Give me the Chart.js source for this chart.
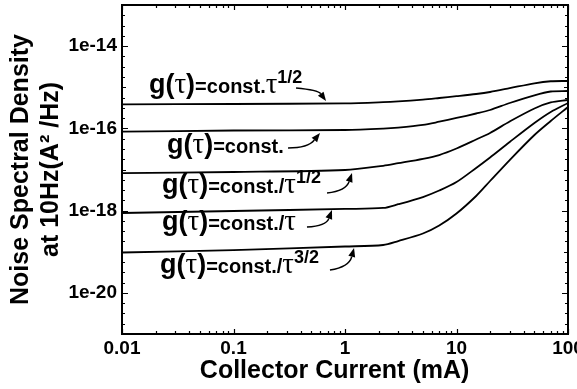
<!DOCTYPE html>
<html><head><meta charset="utf-8">
<script src="https://cdn.jsdelivr.net/npm/chart.js@4.4.0/dist/chart.umd.min.js"></script>
<style>html,body{margin:0;padding:0;background:#fff;}#wrap{width:577px;height:389px;}</style>
</head><body><div id="wrap"><canvas id="c" width="577" height="389"></canvas></div>
<script>
// ---- data ----
const currents = [0.01, 0.1, 1, 2.2, 3, 5, 7, 10, 15, 20, 30, 50, 70, 100]; // mA
const sdTauHalf    = [3.85e-16, 3.92e-16, 4.07e-16, 4.34e-16, 4.53e-16, 5.01e-16, 5.48e-16, 6.06e-16, 6.85e-16, 7.66e-16, 9.49e-16, 1.25e-15, 1.40e-15, 1.42e-15];
const sdConst      = [8.3e-17, 8.87e-17, 9.12e-17, 9.82e-17, 1.04e-16, 1.21e-16, 1.45e-16, 1.79e-16, 2.30e-16, 2.80e-16, 4.14e-16, 6.37e-16, 7.88e-16, 8.11e-16];
const sdInvTauHalf = [8.2e-18, 8.7e-18, 9.72e-18, 1.23e-17, 1.42e-17, 1.82e-17, 2.25e-17, 3.24e-17, 5.36e-17, 7.73e-17, 1.47e-16, 3.04e-16, 4.26e-16, 4.90e-16];
const sdInvTau     = [8.75e-19, 9.8e-19, 1.10e-18, 1.16e-18, 1.43e-18, 2.14e-18, 3.08e-18, 4.96e-18, 1.09e-17, 1.96e-17, 4.67e-17, 1.35e-16, 2.50e-16, 4.14e-16];
const sdInvTau32   = [9.6e-20, 1.10e-19, 1.34e-19, 1.46e-19, 1.82e-19, 2.78e-19, 4.35e-19, 8.51e-19, 2.27e-18, 5.25e-18, 1.70e-17, 6.9e-17, 1.51e-16, 3.31e-16];

const xTickValues = [0.01, 0.1, 1, 10, 100];
const xTickLabels = ['0.01', '0.1', '1', '10', '100'];
const yTickValues = [1e-20, 1e-18, 1e-16, 1e-14];
const yTickLabels = ['1e-20', '1e-18', '1e-16', '1e-14'];
const xTitle = 'Collector Current (mA)   ';
const yTitle = ['Noise Spectral Density', 'at 10Hz(A\u00B2 /Hz)'];
const seriesNames = ['const.\u03C4^1/2', 'const.', 'const./\u03C4^1/2', 'const./\u03C4', 'const./\u03C4^3/2'];

// annotation labels: [log10 x, log10 y] of start/baseline; arrows: tail, ctrl, tip in log10 data space
const labelDefs = [
  {pos: [-1.758, -15.140], pre: '=const.', sup: '1/2', tau: true},
  {pos: [-1.596, -16.599], pre: '=const.', sup: null, tau: false},
  {pos: [-1.641, -17.571], pre: '=const./', sup: '1/2', tau: true},
  {pos: [-1.641, -18.471], pre: '=const./', sup: null, tau: true},
  {pos: [-1.659, -19.517], pre: '=const./', sup: '3/2', tau: true}
];
const arrowDefs = [
  [[-0.439, -15.018], [-0.242, -15.067], [-0.170, -15.334]],
  [[-0.511, -16.477], [-0.332, -16.477], [-0.224, -16.112]],
  [[-0.161, -17.571], [0.009, -17.523], [0.063, -17.085]],
  [[-0.341, -18.398], [-0.170, -18.374], [-0.117, -17.985]],
  [[-0.135, -19.444], [0.036, -19.371], [0.081, -18.909]]
];

const FAM = '"Liberation Sans", Arial, Helvetica, sans-serif';
const seriesArrays = [sdTauHalf, sdConst, sdInvTauHalf, sdInvTau, sdInvTau32];

const frameAndNotes = {
  id: 'frameAndNotes',
  afterDraw(chart) {
    const {ctx, chartArea: {left, right, top, bottom}, scales: {x, y}} = chart;
    ctx.save();
    ctx.strokeStyle = '#000';
    ctx.fillStyle = '#000';
    // inward ticks, x (bottom & top)
    ctx.lineWidth = 1.2;
    ctx.beginPath();
    for (let d = -2; d <= 2; d++) {
      for (let k = 1; k <= 9; k++) {
        const v = k * Math.pow(10, d);
        if (v > 100.0001) break;
        const px = Math.round(x.getPixelForValue(v)) + 0.5;
        const len = k === 1 ? 5 : 3;
        ctx.moveTo(px, bottom); ctx.lineTo(px, bottom - len);
        ctx.moveTo(px, top); ctx.lineTo(px, top + len);
      }
    }
    // inward ticks, y (left & right) every quarter decade
    for (let e = -21; e <= -13; e += 0.25) {
      const v = Math.pow(10, e);
      const py = Math.round(y.getPixelForValue(v)) + 0.5;
      const isInt = Math.abs(e - Math.round(e)) < 1e-9;
      const labeled = isInt && Math.round(e) % 2 === 0;
      const len = labeled ? 6 : (isInt ? 4 : 3);
      ctx.moveTo(left, py); ctx.lineTo(left + len, py);
      ctx.moveTo(right, py); ctx.lineTo(right - len, py);
    }
    ctx.stroke();
    // frame
    ctx.lineWidth = 2;
    ctx.strokeRect(left, top, right - left, bottom - top);

    // labels
    const big = 'bold 27px ' + FAM;
    const tauF = '29px "Liberation Serif", "Times New Roman", serif';
    const small = 'bold 20px ' + FAM;
    const supF = 'bold 18px ' + FAM;
    ctx.textBaseline = 'alphabetic';
    ctx.textAlign = 'left';
    labelDefs.forEach(L => {
      let px = x.getPixelForValue(Math.pow(10, L.pos[0]));
      const py = y.getPixelForValue(Math.pow(10, L.pos[1]));
      const parts = [
        {t: 'g(', f: big, dy: 0},
        {t: '\u03C4', f: tauF, dy: 0},
        {t: ')', f: big, dy: 0},
        {t: L.pre, f: small, dy: 0}
      ];
      if (L.tau) parts.push({t: '\u03C4', f: tauF, dy: 0});
      if (L.sup) parts.push({t: L.sup, f: supF, dy: -10});
      parts.forEach(p => {
        ctx.font = p.f;
        ctx.fillText(p.t, px, py + p.dy);
        px += ctx.measureText(p.t).width;
      });
    });

    // arrows
    ctx.lineWidth = 1.4;
    arrowDefs.forEach(A => {
      const P = A.map(q => [x.getPixelForValue(Math.pow(10, q[0])), y.getPixelForValue(Math.pow(10, q[1]))]);
      const [t, c, h] = P;
      const ang = Math.atan2(h[1] - c[1], h[0] - c[0]);
      const L = 9, W = 3.5;
      const bx = h[0] - L * Math.cos(ang), by = h[1] - L * Math.sin(ang);
      ctx.beginPath();
      ctx.moveTo(t[0], t[1]);
      ctx.quadraticCurveTo(c[0], c[1], bx, by);
      ctx.stroke();
      ctx.beginPath();
      ctx.moveTo(h[0], h[1]);
      ctx.lineTo(bx + W * Math.sin(ang), by - W * Math.cos(ang));
      ctx.lineTo(bx - W * Math.sin(ang), by + W * Math.cos(ang));
      ctx.closePath();
      ctx.fill();
    });
    ctx.restore();
  }
};

new Chart(document.getElementById('c'), {
  type: 'line',
  data: {
    datasets: seriesArrays.map((arr, i) => ({
      label: seriesNames[i],
      data: currents.map((c, j) => ({x: c, y: arr[j]})),
      borderColor: '#000',
      borderWidth: 1.8,
      pointRadius: 0,
      fill: false,
      tension: 0.3
    }))
  },
  options: {
    responsive: false,
    animation: false,
    devicePixelRatio: 1,
    layout: {padding: {top: 5, right: 9, left: 0, bottom: 0}},
    plugins: {legend: {display: false}, tooltip: {enabled: false}},
    scales: {
      x: {
        type: 'logarithmic', position: 'bottom', min: 0.01, max: 100,
        grid: {display: false, drawTicks: false},
        border: {display: false},
        afterBuildTicks: s => { s.ticks = xTickValues.map(v => ({value: v})); },
        afterFit: s => { s.height = 55; s.paddingLeft = 0; s.paddingRight = 0; },
        ticks: {
          color: '#000', padding: 3, maxRotation: 0, autoSkip: false,
          font: {family: FAM, size: 19, weight: 'bold'},
          callback: v => { const i = xTickValues.findIndex(t => Math.abs(t - v) / t < 1e-6); return i >= 0 ? xTickLabels[i] : ''; }
        },
        title: {display: true, text: xTitle, color: '#000', padding: {top: 0, bottom: 3},
          font: {family: FAM, size: 25, weight: 'bold'}}
      },
      y: {
        type: 'logarithmic', position: 'left', min: 1e-21, max: 1e-13,
        grid: {display: false, drawTicks: false},
        border: {display: false},
        afterBuildTicks: s => { s.ticks = yTickValues.map(v => ({value: v})); },
        afterFit: s => { s.width = 122; s.paddingTop = 0; s.paddingBottom = 0; },
        ticks: {
          color: '#000', padding: 5, autoSkip: false,
          font: {family: FAM, size: 19, weight: 'bold'},
          callback: v => { const i = yTickValues.findIndex(t => Math.abs(t - v) / t < 1e-6); return i >= 0 ? yTickLabels[i] : ''; }
        },
        title: {display: true, text: yTitle, color: '#000', padding: {top: 6, bottom: 0},
          font: {family: FAM, size: 25, weight: 'bold'}}
      }
    }
  },
  plugins: [frameAndNotes]
});
</script>
</body></html>
